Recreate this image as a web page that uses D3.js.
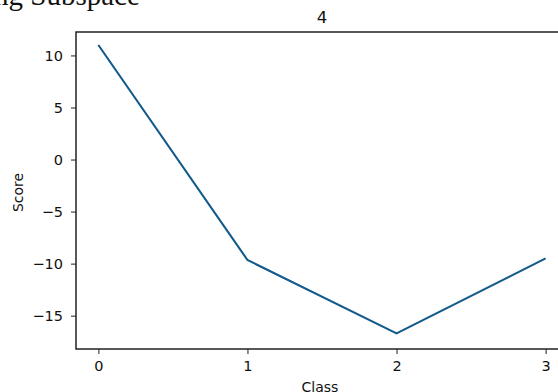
<!DOCTYPE html>
<html>
<head>
<meta charset="utf-8">
<script src="https://cdn.jsdelivr.net/npm/d3@7"></script>
<style>
  html, body { margin: 0; padding: 0; background: #fff; }
  svg { display: block; }
</style>
</head>
<body>
<svg id="chart" width="558" height="392"></svg>
<script>
const categories = [0, 1, 2, 3];
const scores = [11.0, -9.65, -16.7, -9.5];
const yTicks = [10, 5, 0, -5, -10, -15];
const xTicks = [0, 1, 2, 3];
const titleText = "4";
const xLabel = "Class";
const yLabel = "Score";
const headerText = "ng Subspace";

(function () {
const svg = d3.select("#chart");
const mLeft = 76, mRight = 568, mTop = 32, mBottom = 349;

const x = d3.scaleLinear().domain([-0.15, 3.15]).range([mLeft, mRight]);
const y = d3.scaleLinear().domain([-18.2, 12.25]).range([mBottom, mTop]);

// cut-off header text from surrounding document
svg.append("text")
  .attr("x", -6).attr("y", 5)
  .attr("font-family", "Liberation Serif, serif")
  .attr("font-size", 29)
  .attr("fill", "#111")
  .text(headerText);

const font = "DejaVu Sans, sans-serif";

// y axis
const yAxis = svg.append("g")
  .attr("transform", `translate(${mLeft},0)`)
  .call(d3.axisLeft(y).tickValues(yTicks).tickSize(5).tickPadding(8)
    .tickFormat(d => d < 0 ? "\u2212" + Math.abs(d) : d));
yAxis.select(".domain").remove();
yAxis.selectAll("text").attr("font-family", font).attr("font-size", 14.5).attr("fill", "#111");
yAxis.selectAll("line").attr("stroke", "#333").attr("stroke-width", 1.1);

// x axis
const xAxis = svg.append("g")
  .attr("transform", `translate(0,${mBottom})`)
  .call(d3.axisBottom(x).tickValues(xTicks).tickSize(5).tickPadding(7).tickFormat(d3.format("d")));
xAxis.select(".domain").remove();
xAxis.selectAll("text").attr("font-family", font).attr("font-size", 14.5).attr("fill", "#111");
xAxis.selectAll("line").attr("stroke", "#333").attr("stroke-width", 1.1);

// frame
svg.append("rect")
  .attr("x", mLeft).attr("y", mTop)
  .attr("width", mRight - mLeft).attr("height", mBottom - mTop)
  .attr("fill", "none").attr("stroke", "#222").attr("stroke-width", 1.5);

// line
const line = d3.line().x((d, i) => x(categories[i])).y(d => y(d));
svg.append("path")
  .datum(scores)
  .attr("d", line)
  .attr("fill", "none")
  .attr("stroke", "#135a8c")
  .attr("stroke-width", 2.1);

// title
svg.append("text")
  .attr("x", (mLeft + mRight) / 2).attr("y", 23)
  .attr("text-anchor", "middle")
  .attr("font-family", font).attr("font-size", 16.5)
  .attr("fill", "#111")
  .text(titleText);

// x label
svg.append("text")
  .attr("x", (mLeft + mRight) / 2 - 2).attr("y", 392)
  .attr("text-anchor", "middle")
  .attr("font-family", font).attr("font-size", 14)
  .attr("fill", "#111")
  .text(xLabel);

// y label
svg.append("text")
  .attr("transform", `translate(23,${(mTop + mBottom) / 2 + 2}) rotate(-90)`)
  .attr("text-anchor", "middle")
  .attr("font-family", font).attr("font-size", 14)
  .attr("fill", "#111")
  .text(yLabel);
})();
</script>
</body>
</html>
